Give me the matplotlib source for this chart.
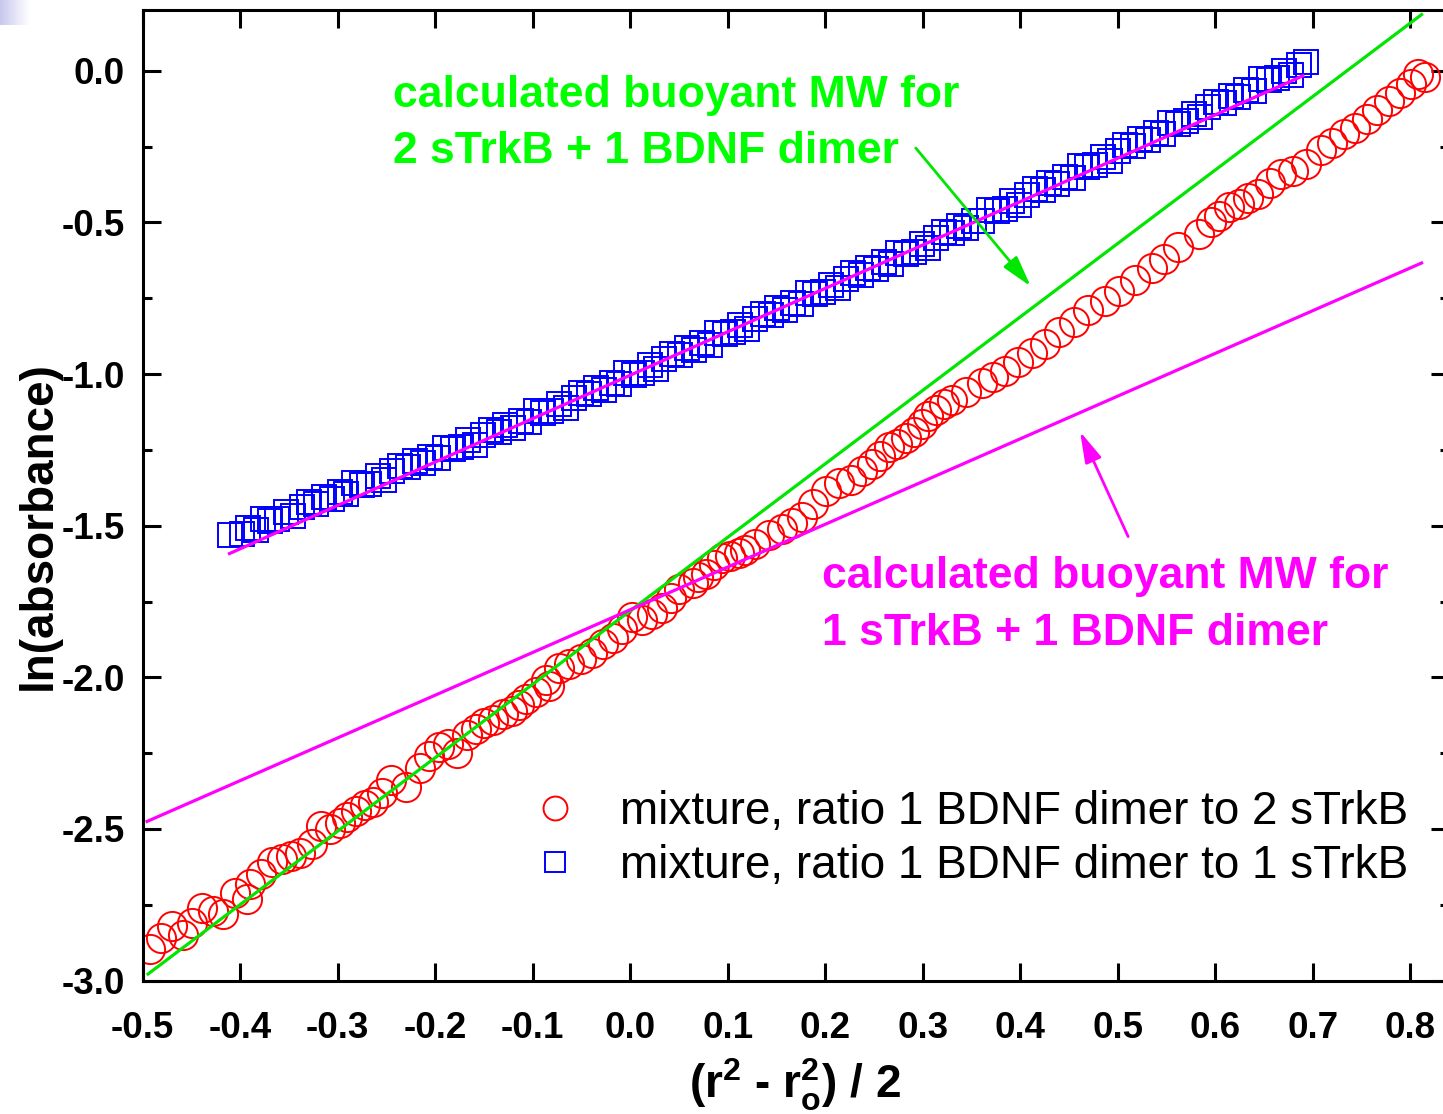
import matplotlib
matplotlib.use("Agg")
import matplotlib.pyplot as plt
from matplotlib.ticker import MultipleLocator, AutoMinorLocator
import numpy as np

plt.rcParams['font.family'] = ['Liberation Sans', 'DejaVu Sans']
plt.rcParams['mathtext.fontset'] = 'custom'
plt.rcParams['mathtext.rm'] = 'Liberation Sans:bold'
plt.rcParams['mathtext.it'] = 'Liberation Sans:bold'
plt.rcParams['mathtext.bf'] = 'Liberation Sans:bold'

# mixture 1 BDNF dimer : 2 sTrkB (red circles)
red_x = [-0.493, -0.481, -0.470, -0.459, -0.449, -0.439, -0.428, -0.418, -0.405, -0.393,
         -0.390, -0.379, -0.367, -0.357, -0.348, -0.339, -0.326, -0.317, -0.308, -0.298,
         -0.290, -0.281, -0.272, -0.264, -0.255, -0.245, -0.230, -0.216, -0.206, -0.196,
         -0.187, -0.178, -0.167, -0.158, -0.150, -0.141, -0.130, -0.121, -0.114, -0.107,
         -0.097, -0.086, -0.083, -0.073, -0.063, -0.050, -0.039, -0.028, -0.018, -0.008,
         0.002, 0.012, 0.022, 0.033, 0.042, 0.050, 0.064, 0.070, 0.078, 0.086,
         0.094, 0.102, 0.112, 0.118, 0.128, 0.142, 0.156, 0.166, 0.176, 0.188,
         0.201, 0.214, 0.227, 0.238, 0.248, 0.256, 0.265, 0.274, 0.283, 0.291,
         0.299, 0.306, 0.314, 0.322, 0.330, 0.345, 0.361, 0.372, 0.385, 0.398,
         0.412, 0.426, 0.440, 0.455, 0.470, 0.487, 0.501, 0.518, 0.535, 0.548,
         0.562, 0.583, 0.596, 0.604, 0.614, 0.625, 0.634, 0.644, 0.656, 0.668,
         0.680, 0.693, 0.709, 0.720, 0.732, 0.744, 0.756, 0.766, 0.778, 0.790,
         0.801, 0.808, 0.815]
red_y = [-2.895, -2.86, -2.82, -2.85, -2.81, -2.76, -2.77, -2.78, -2.71, -2.73,
         -2.68, -2.65, -2.61, -2.60, -2.59, -2.58, -2.55, -2.49, -2.50, -2.48,
         -2.46, -2.44, -2.42, -2.41, -2.38, -2.34, -2.36, -2.30, -2.26, -2.23,
         -2.22, -2.25, -2.19, -2.17, -2.15, -2.14, -2.12, -2.11, -2.09, -2.07,
         -2.05, -2.01, -2.03, -1.97, -1.955, -1.94, -1.92, -1.89, -1.87, -1.84,
         -1.80, -1.81, -1.79, -1.77, -1.74, -1.71, -1.69, -1.67, -1.66, -1.63,
         -1.606, -1.60, -1.59, -1.58, -1.56, -1.53, -1.51, -1.49, -1.47, -1.43,
         -1.385, -1.36, -1.35, -1.32, -1.296, -1.27, -1.24, -1.23, -1.21, -1.19,
         -1.164, -1.14, -1.12, -1.10, -1.085, -1.06, -1.03, -1.01, -0.99, -0.96,
         -0.93, -0.90, -0.86, -0.83, -0.79, -0.76, -0.725, -0.69, -0.65, -0.62,
         -0.58, -0.537, -0.50, -0.48, -0.45, -0.44, -0.42, -0.405, -0.37, -0.34,
         -0.33, -0.307, -0.26, -0.24, -0.21, -0.188, -0.16, -0.13, -0.10, -0.075,
         -0.043, -0.01, -0.02]

# mixture 1 BDNF dimer : 1 sTrkB (blue squares)
blue_x = [-0.410, -0.398, -0.392, -0.384, -0.377, -0.369, -0.362, -0.353, -0.346, -0.337,
          -0.329, -0.322, -0.314, -0.306, -0.298, -0.291, -0.283, -0.275, -0.268, -0.259,
          -0.252, -0.244, -0.236, -0.228, -0.221, -0.213, -0.205, -0.197, -0.190, -0.182,
          -0.174, -0.166, -0.159, -0.151, -0.143, -0.135, -0.128, -0.120, -0.112, -0.104,
          -0.097, -0.089, -0.081, -0.073, -0.066, -0.058, -0.050, -0.042, -0.035, -0.027,
          -0.019, -0.011, -0.004, 0.004, 0.012, 0.020, 0.027, 0.035, 0.043, 0.051,
          0.058, 0.066, 0.074, 0.082, 0.089, 0.097, 0.105, 0.113, 0.120, 0.128,
          0.136, 0.144, 0.151, 0.159, 0.167, 0.175, 0.182, 0.190, 0.198, 0.206,
          0.213, 0.221, 0.229, 0.237, 0.244, 0.252, 0.260, 0.268, 0.275, 0.283,
          0.291, 0.299, 0.306, 0.314, 0.322, 0.330, 0.337, 0.345, 0.353, 0.361,
          0.368, 0.376, 0.384, 0.392, 0.399, 0.407, 0.415, 0.423, 0.430, 0.438,
          0.446, 0.454, 0.461, 0.469, 0.477, 0.485, 0.492, 0.500, 0.508, 0.516,
          0.523, 0.531, 0.539, 0.547, 0.554, 0.562, 0.570, 0.578, 0.585, 0.593,
          0.601, 0.609, 0.616, 0.624, 0.632, 0.640, 0.647, 0.655, 0.663, 0.671,
          0.678, 0.686, 0.693]
blue_y = [-1.530, -1.528, -1.508, -1.514, -1.478, -1.483, -1.479, -1.454, -1.469, -1.437,
          -1.421, -1.427, -1.404, -1.413, -1.390, -1.397, -1.360, -1.366, -1.362, -1.337,
          -1.351, -1.320, -1.304, -1.308, -1.287, -1.295, -1.272, -1.278, -1.243, -1.247,
          -1.242, -1.219, -1.234, -1.202, -1.186, -1.190, -1.169, -1.177, -1.154, -1.159,
          -1.123, -1.127, -1.122, -1.099, -1.111, -1.080, -1.064, -1.067, -1.045, -1.052,
          -1.029, -1.034, -0.998, -1.002, -0.996, -0.971, -0.984, -0.952, -0.935, -0.938,
          -0.915, -0.922, -0.898, -0.903, -0.866, -0.869, -0.863, -0.838, -0.851, -0.819,
          -0.801, -0.805, -0.782, -0.789, -0.765, -0.770, -0.733, -0.736, -0.730, -0.705,
          -0.718, -0.686, -0.668, -0.672, -0.649, -0.655, -0.632, -0.637, -0.600, -0.603,
          -0.597, -0.571, -0.584, -0.551, -0.533, -0.536, -0.512, -0.517, -0.494, -0.497,
          -0.459, -0.462, -0.455, -0.429, -0.442, -0.409, -0.390, -0.393, -0.369, -0.374,
          -0.350, -0.353, -0.315, -0.318, -0.310, -0.286, -0.298, -0.265, -0.246, -0.249,
          -0.225, -0.230, -0.206, -0.209, -0.172, -0.175, -0.167, -0.142, -0.154, -0.120,
          -0.102, -0.105, -0.082, -0.087, -0.063, -0.066, -0.029, -0.032, -0.025, 0.000,
          -0.013, 0.020, 0.028]

# fitted / calculated lines (end points)
fit_x = [-0.411, 0.690]
fit_y = [-1.592, -0.017]
calc2_x = [-0.4945, 0.8118]   # 2 sTrkB + 1 BDNF dimer
calc2_y = [-2.978, 0.185]
calc1_x = [-0.4955, 0.8118]   # 1 sTrkB + 1 BDNF dimer
calc1_y = [-2.475, -0.634]

green = '#00E600'
magenta = '#FF00FF'

fig = plt.figure(figsize=(14.43, 11.14), dpi=100)

# faint slide background in the top-left corner
bg = fig.add_axes([0, 1 - 25 / 1114, 30 / 1443, 25 / 1114])
bg.imshow(np.linspace(0, 1, 50)[None, :], cmap=matplotlib.colors.LinearSegmentedColormap.from_list(
    'bg', ['#C8C8EE', '#FFFFFF']), aspect='auto')
bg.axis('off')

ax = fig.add_axes([0.0989, 0.1197, 0.9053, 0.8713])

ax.plot(red_x, red_y, 'o', ms=21, mfc='none', mec='#FF0000', mew=1.4, zorder=2,
        label='mixture, ratio 1 BDNF dimer to 2 sTrkB')
ax.plot(blue_x, blue_y, 's', ms=17.5, mfc='none', mec='#0000FF', mew=1.4, zorder=2,
        label='mixture, ratio 1 BDNF dimer to 1 sTrkB')
ax.plot(fit_x, fit_y, color=magenta, lw=2.3, zorder=3)
ax.plot(calc2_x, calc2_y, color=green, lw=2.3, zorder=3)
ax.plot(calc1_x, calc1_y, color=magenta, lw=2.3, zorder=3)

# annotations
arrow_style = '-|>,head_length=0.9,head_width=0.25'
ax.text(-0.2433, -0.119, 'calculated buoyant MW for', color='#00FF00', fontsize=32,
        fontweight='bold', va='baseline', ha='left')
ax.text(-0.2433, -0.303, '2 sTrkB + 1 BDNF dimer', color='#00FF00', fontsize=32,
        fontweight='bold', va='baseline', ha='left')
ax.annotate('', xy=(0.4109, -0.711), xytext=(0.293, -0.255),
            arrowprops=dict(arrowstyle=arrow_style, color=green,
                            lw=2, shrinkA=0, shrinkB=0, mutation_scale=21))

ax.text(0.1965, -1.705, 'calculated buoyant MW for', color=magenta, fontsize=32,
        fontweight='bold', va='baseline', ha='left')
ax.text(0.1965, -1.893, '1 sTrkB + 1 BDNF dimer', color=magenta, fontsize=32,
        fontweight='bold', va='baseline', ha='left')
ax.annotate('', xy=(0.4615, -1.190), xytext=(0.5108, -1.536),
            arrowprops=dict(arrowstyle=arrow_style, color=magenta,
                            lw=2, shrinkA=0, shrinkB=0, mutation_scale=21))

ax.set_xlim(-0.5, 0.84)
ax.set_ylim(-3.0, 0.2)
ax.xaxis.set_major_locator(MultipleLocator(0.1))
ax.yaxis.set_major_locator(MultipleLocator(0.5))
ax.yaxis.set_minor_locator(AutoMinorLocator(2))
ax.xaxis.set_major_formatter(matplotlib.ticker.FormatStrFormatter('%.1f'))
ax.yaxis.set_major_formatter(matplotlib.ticker.FormatStrFormatter('%.1f'))

ax.tick_params(which='both', direction='in', top=True, right=True, width=2.2)
ax.tick_params(which='major', length=13)
ax.tick_params(which='minor', length=6.5)
ax.tick_params(axis='x', pad=22, labelsize=26.5)
ax.tick_params(axis='y', pad=13, labelsize=26.5)
for lab in ax.get_xticklabels() + ax.get_yticklabels():
    lab.set_fontweight('bold')
for sp in ax.spines.values():
    sp.set_linewidth(2.2)

ax.set_xlabel(r'(r$^{2}$ - r$_{o}^{2}$) / 2', fontsize=33, fontweight='bold')
ax.set_ylabel('ln(absorbance)', fontsize=33, fontweight='bold')
ax.xaxis.set_label_coords(0.499, -0.078)
ax.yaxis.set_label_coords(-0.063, 0.469)

ax.legend(loc='center left', bbox_to_anchor=(0.298, 0.1455), frameon=False, fontsize=33,
          handlelength=1.0, handletextpad=0.92, borderpad=0, borderaxespad=0,
          labelspacing=0.22, markerscale=0.82)

fig.savefig('out.png', dpi=100)
